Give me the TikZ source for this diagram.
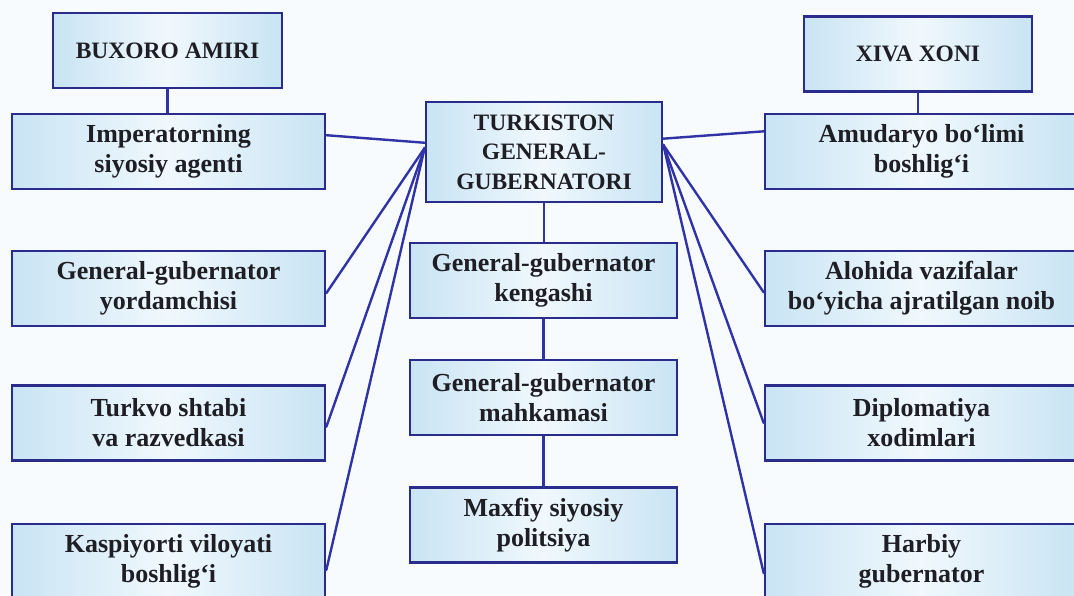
\documentclass[tikz,border=0pt]{standalone}
\usepackage{fontspec}
\setmainfont{Liberation Serif}
\usetikzlibrary{calc}
\definecolor{bgc}{HTML}{F8FBFD}
\definecolor{boxblue}{HTML}{C9E4F4}
\definecolor{boxlight}{HTML}{F0F8FD}
\definecolor{bordc}{HTML}{2A2C8C}
\definecolor{linec}{HTML}{3033A6}
\definecolor{txtc}{HTML}{1E1E24}
\tikzset{
  orgbox/.style={draw=bordc, line width=2.6pt, left color=boxblue, right color=boxblue, middle color=boxlight,
    inner sep=0pt, align=center, text=txtc, font=\bfseries\fontsize{26}{30}\selectfont,
    minimum height=75pt},
  sidebox/.style={orgbox, minimum width=313pt},
  midbox/.style={orgbox, minimum width=267pt},
  capbox/.style={orgbox, font=\bfseries\fontsize{23.5}{29.5}\selectfont},
  conn/.style={draw=linec, line width=2.4pt, line cap=round},
}
\begin{document}
\begin{tikzpicture}[x=1pt,y=-1pt]
\useasboundingbox (0,0) rectangle (1074,595);
\clip (0,0) rectangle (1074,595);
\fill[bgc] (0,0) rectangle (1074,595);

% nodes
\node[capbox, minimum width=229pt] (bux) at (167.5,50.5) {BUXORO AMIRI};
\node[capbox, minimum width=228pt] (xiva) at (918,54) {XIVA XONI};
\node[capbox, minimum width=236pt, minimum height=100pt] (tur) at (544,152) {TURKISTON\\GENERAL-\\GUBERNATORI};

\node[sidebox] (imp) at (168.5,151.5) {Imperatorning\\siyosiy agenti};
\node[sidebox] (yor) at (168.5,288.5) {General-gubernator\\yordamchisi};
\node[sidebox] (shtab) at (168.5,423) {Turkvo shtabi\\va razvedkasi};
\node[sidebox] (kasp) at (168.5,561.5) {Kaspiyorti viloyati\\boshlig‘i};

\node[sidebox] (amu) at (921.5,151.5) {Amudaryo bo‘limi\\boshlig‘i};
\node[sidebox] (alo) at (921.5,288.5) {Alohida vazifalar\\bo‘yicha ajratilgan noib};
\node[sidebox] (dip) at (921.5,423) {Diplomatiya\\xodimlari};
\node[sidebox] (harb) at (921.5,561.5) {Harbiy\\gubernator};

\node[midbox] (ken) at (543.5,280.5) {General-gubernator\\kengashi};
\node[midbox] (mah) at (543.5,397.5) {General-gubernator\\mahkamasi};
\node[midbox] (maxf) at (543.5,525) {Maxfiy siyosiy\\politsiya};

% connector end points on the box borders
\coordinate (tL1) at ($(tur.north west)!0.41!(tur.south west)$);
\coordinate (tL) at ($(tur.north west)!0.46!(tur.south west)$);
\coordinate (tR1) at ($(tur.north east)!0.37!(tur.south east)$);
\coordinate (tR) at ($(tur.north east)!0.43!(tur.south east)$);
\coordinate (impE) at ($(imp.north east)!0.29!(imp.south east)$);
\coordinate (yorE) at ($(yor.north east)!0.56!(yor.south east)$);
\coordinate (shtabE) at ($(shtab.north east)!0.55!(shtab.south east)$);
\coordinate (kaspE) at ($(kasp.north east)!0.61!(kasp.south east)$);
\coordinate (amuW) at ($(amu.north west)!0.24!(amu.south west)$);
\coordinate (aloW) at ($(alo.north west)!0.55!(alo.south west)$);
\coordinate (dipW) at ($(dip.north west)!0.5!(dip.south west)$);
\coordinate (harbW) at ($(harb.north west)!0.65!(harb.south west)$);

\begin{scope}[on background layer/.style={}]
\draw[conn] (tL1) -- (impE);
\draw[conn] (tL) -- (yorE);
\draw[conn] (tL) -- (shtabE);
\draw[conn] (tL) -- (kaspE);
\draw[conn] (tR1) -- (amuW);
\draw[conn] (tR) -- (aloW);
\draw[conn] (tR) -- (dipW);
\draw[conn] (tR) -- (harbW);
\draw[conn] (bux.south) -- (bux.south |- imp.north);
\draw[conn] (xiva.south) -- (xiva.south |- amu.north);
\draw[conn] (tur.south) -- (tur.south |- ken.north);
\draw[conn] (ken.south) -- (mah.north);
\draw[conn] (mah.south) -- (maxf.north);
\end{scope}
\end{tikzpicture}
\end{document}
